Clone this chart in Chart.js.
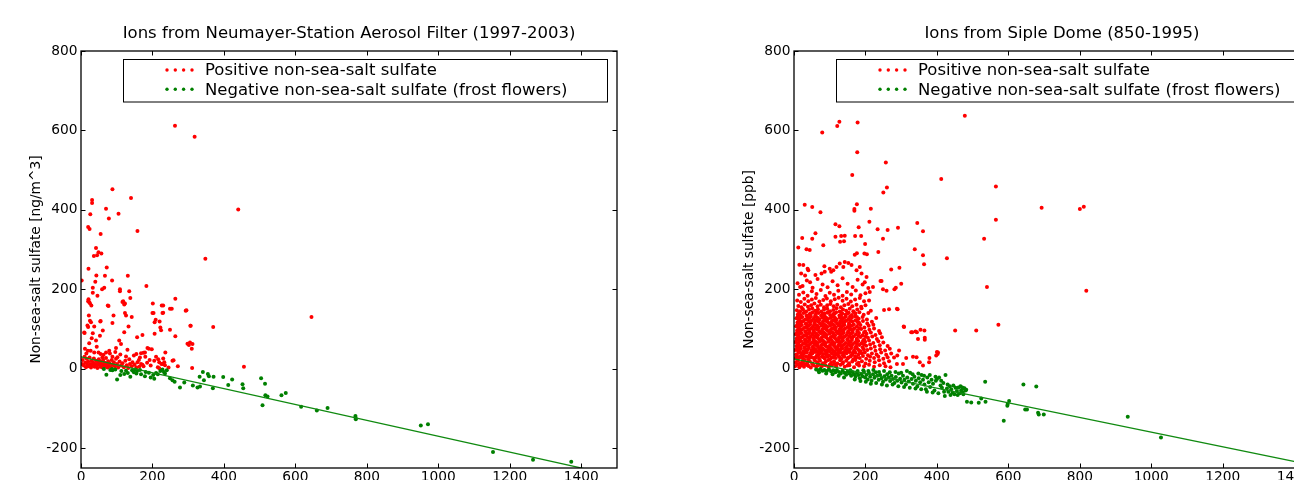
<!DOCTYPE html>
<html>
<head>
<meta charset="utf-8">
<script src="https://cdn.jsdelivr.net/npm/chart.js@4/dist/chart.umd.min.js"></script>
<style>
  html, body { margin: 0; padding: 0; background: #fff; overflow: hidden; }
  #wrap { position: relative; width: 1294px; height: 480px; overflow: hidden; }
  canvas { position: absolute; top: 0; }
  #left { left: 0; }
  #right { left: 713px; }
</style>
</head>
<body>
<div id="wrap">
  <canvas id="left" width="680" height="500"></canvas>
  <canvas id="right" width="680" height="500"></canvas>
</div>
<script>
// axis ticks
const xTicks = [0, 200, 400, 600, 800, 1000, 1200, 1400];
const yTicks = [-200, 0, 200, 400, 600, 800];

const seriesLabels = ['Positive non-sea-salt sulfate', 'Negative non-sea-salt sulfate (frost flowers)'];

// Neumayer: [sodium, nss sulfate]
const neuPositive = [
  [263,612],[318,584],[440,401],[88,452],[140,430],[31,425],[31,417],[70,403],[26,389],[105,390],[78,378],[20,357],[24,352],[55,339],[158,347],
  [42,304],[49,293],[57,290],[36,284],[45,286],[348,277],[21,252],[72,255],[43,235],[67,234],[131,234],[2,222],[40,219],[87,222],[33,204],
  [59,200],[65,204],[109,200],[183,208],[33,191],[46,184],[138,178],[264,176],[21,175],[20,170],[25,165],[29,159],[77,158],[118,170],[123,164],
  [201,164],[203,140],[206,117],[230,159],[230,141],[254,151],[295,147],[307,108],[264,82],[298,63],[305,66],[310,50],[370,105],[311,2],[456,5],
  [645,130],[91,134],[55,120],[22,134],[25,121],[61,96],[18,109],[20,105],[9,91],[123,140],[220,119],[224,97],[222,104],[206,88],[236,41],
  [271,6],[259,21],[109,195],[135,195],[116,168],[121,162],[23,168],[75,159],[226,159],[249,151],[228,140],[293,146],[200,140],[126,134],[142,130],
  [54,119],[209,123],[306,108],[88,115],[28,117],[37,106],[10,90],[33,89],[133,106],[121,92],[172,85],[157,79],[53,83],[249,98],[30,77],
  [23,64],[42,71],[107,71],[112,62],[98,52],[312,62],[302,60],[198,49],[186,52],[179,41],[168,39],[155,37],[79,45],[70,41],[19,45],
  [11,50],[37,41],[55,37],[49,41],[60,29],[88,30],[102,29],[126,31],[135,24],[144,16],[158,16],[172,10],[163,5],[219,16],[256,20],
  [190,50],[175,40],[216,24],[233,16],[229,12],[219,1],
  [3,12],[5,22],[8,8],[10,30],[12,15],[14,4],[16,25],[18,10],[20,18],[22,6],[24,28],[26,12],[28,3],[30,20],[32,9],[34,15],[36,26],[38,5],
  [40,12],[42,20],[44,8],[46,2],[48,16],[50,24],[52,10],[54,5],[56,18],[58,12],[60,3],[62,22],[64,9],[66,15],[68,6],[70,27],[72,12],[74,3],
  [76,19],[78,8],[80,14],[84,4],[86,22],[88,10],[92,16],[95,6],[98,25],[101,12],[104,3],[108,18],[112,8],[116,14],[120,4],[124,20],[128,9],
  [132,2],[137,12],[142,6],[150,10],[155,3],[162,22],[168,12],[175,6],[185,15],[195,8],[205,20],[215,4],[225,12],[235,9],[245,3],
  [15,38],[27,45],[44,55],[63,35],[81,38],[96,42],[110,36],[130,48],[148,33],[165,28],[180,30],[192,22],[210,30],[230,26]
];
const neuNegative = [
  [64,-1],[71,-15],[82,-3],[88,-4],[87,-1],[96,-2],[101,-27],[110,-16],[113,-6],[121,-13],[126,-5],[131,-11],[138,-20],[143,-4],[148,-9],
  [152,-2],[155,-12],[157,-6],[165,-3],[168,-14],[179,-19],[181,-8],[190,-10],[195,-22],[202,-16],[205,-25],[210,-11],[215,-14],[222,-6],
  [228,-2],[232,-8],[235,-12],[240,-4],[249,-24],[256,-29],[262,-33],[277,-47],[289,-35],[313,-42],[326,-47],[333,-45],[341,-8],[344,-29],
  [332,-20],[355,-13],[358,-19],[371,-20],[369,-49],[398,-21],[412,-41],[423,-27],[452,-39],[454,-49],[504,-24],[515,-38],[516,-67],[522,-70],
  [508,-92],[561,-67],[573,-61],[616,-96],[660,-105],[690,-99],[768,-119],[768,-123],[769,-127],[951,-143],[971,-140],[1153,-210],[1265,-229],[1372,-234]
];
const neuFitX = [0, 1500];
const neuFitY = [30, -270];

// Siple Dome: [sodium, nss sulfate]
const sipPositive = [
  [478,637],[800,402],[811,408],[693,405],[565,459],[565,375],[532,327],[412,478],[257,519],[260,456],[250,444],[177,545],[178,620],[127,622],
  [121,611],[79,595],[163,488],[30,413],[51,407],[74,394],[176,414],[169,402],[169,398],[215,403],[345,367],[116,364],[127,359],[181,356],
  [211,370],[234,351],[262,349],[291,355],[361,346],[23,329],[51,327],[60,341],[116,332],[132,334],[142,335],[171,334],[188,334],[129,320],
  [140,321],[199,314],[249,327],[12,305],[35,301],[44,299],[82,311],[236,294],[197,290],[204,288],[170,287],[176,291],[338,301],[361,286],
  [428,278],[818,196],[540,206],[572,111],[451,96],[510,96],[364,263],[272,250],[295,254],[300,214],[245,221],[249,200],[281,200],
  [242,221],[285,204],[259,196],[252,148],[288,151],[307,106],[294,46],[328,92],[340,94],[347,75],[354,98],[366,73],[403,41],[398,33],
  [379,27],[361,8],[352,16],[333,30],[314,27],[305,12],[290,150],[266,150],[308,105],[331,92],[344,92],[366,78],[365,96],
  [400,42],[402,37],[378,16],[343,29],[289,33],[288,12],
  [3,6],[9,10],[15,4],[21,9],[28,5],[34,11],[41,7],[47,3],[55,9],[62,5],[70,10],[78,6],[88,9],[97,4],[106,8],[118,6],[130,10],[142,5],
  [155,9],[168,4],[182,8],[196,6],[210,10],[224,5],[240,9],[256,6],[270,4],
  [5,16],[11,20],[17,14],[24,18],[30,22],[37,15],[44,19],[51,13],[58,21],[65,16],[73,20],[81,14],[89,18],[96,22],[104,15],[112,19],
  [121,13],[129,21],[137,16],[146,20],[154,14],[163,18],[172,22],[181,15],[190,19],[200,13],[212,20],[226,16],[238,21],[252,14],[266,19],
  [4,27],[10,25],[18,30],[25,26],[33,31],[40,24],[48,29],[55,27],[63,32],[70,25],[78,30],[86,26],[94,31],[101,24],[109,29],[117,27],
  [125,32],[133,25],[141,30],[150,26],[158,31],[166,24],[175,29],[184,27],[193,32],[202,25],[213,30],[224,27],[236,31],[250,25],[262,29],[280,28],
  [6,36],[13,40],[21,35],[28,39],[36,41],[43,34],[51,38],[59,42],[66,35],[74,39],[82,37],[90,41],[98,34],[106,38],[114,42],[122,36],
  [130,40],[138,34],[147,39],[155,42],[163,36],[172,40],[180,35],[189,39],[198,41],[207,34],[218,38],[231,36],[244,41],[258,35],[272,38],
  [3,47],[11,45],[19,50],[26,44],[34,48],[42,52],[49,46],[57,50],[65,44],[72,49],[80,51],[88,45],[95,48],[103,52],[111,44],[119,49],
  [127,46],[135,51],[143,45],[151,49],[160,52],[168,46],[177,50],[186,44],[195,49],[205,47],[215,51],[228,45],[241,49],[255,46],[268,50],
  [7,57],[14,55],[22,60],[30,54],[38,58],[45,62],[53,56],[61,60],[68,54],[76,59],[84,61],[92,55],[100,58],[108,62],[116,54],[124,59],
  [132,56],[140,61],[148,55],[157,59],[165,62],[174,56],[183,60],[192,54],[202,58],[213,61],[226,55],[240,59],[262,57],
  [4,67],[12,65],[20,70],[27,64],[35,69],[43,72],[50,66],[58,70],[66,64],[73,69],[81,71],[89,65],[97,68],[105,72],[113,64],[121,69],
  [129,66],[137,71],[145,65],[154,69],[162,72],[171,66],[180,70],[189,64],[199,68],[210,71],[222,65],[236,69],[250,66],
  [8,77],[16,75],[24,80],[31,74],[39,78],[47,82],[54,76],[62,80],[70,74],[78,79],[86,81],[94,75],[102,78],[110,82],[118,74],[126,79],
  [134,76],[142,81],[150,75],[159,79],[167,82],[176,76],[186,80],[196,74],[207,78],[219,81],[232,75],[246,79],
  [5,87],[13,85],[21,90],[28,84],[36,89],[44,92],[51,86],[59,90],[67,84],[75,89],[83,91],[91,85],[99,88],[107,92],[115,84],[123,89],
  [131,86],[139,91],[147,85],[156,89],[164,92],[173,86],[182,90],[192,84],[203,88],[215,91],[228,85],[241,89],
  [9,97],[17,95],[25,100],[32,94],[40,98],[48,102],[55,96],[63,100],[71,94],[79,99],[87,101],[95,95],[103,98],[111,102],[119,94],[127,99],
  [135,96],[143,101],[152,95],[160,99],[169,102],[178,96],[188,100],[199,94],[211,98],[224,101],[238,95],
  [6,107],[14,105],[22,110],[30,104],[37,109],[45,112],[53,106],[61,110],[69,104],[77,109],[85,111],[93,105],[101,108],[109,112],[117,104],
  [125,109],[133,106],[141,111],[150,105],[158,109],[167,112],[176,106],[186,110],[197,104],[209,108],[222,111],
  [10,117],[18,115],[26,120],[34,114],[42,118],[50,122],[57,116],[65,120],[73,114],[81,119],[89,121],[97,115],[105,118],[113,122],[121,114],
  [129,119],[137,116],[146,121],[154,115],[163,119],[172,122],[182,116],[193,120],[205,114],[218,118],
  [7,127],[15,125],[23,130],[31,124],[39,129],[47,132],[55,126],[63,130],[71,124],[79,129],[87,131],[95,125],[103,128],[111,132],[119,124],
  [128,129],[136,126],[145,131],[153,125],[162,129],[171,132],[181,126],[192,130],[204,124],[230,128],
  [11,137],[19,135],[27,140],[36,134],[44,138],[52,142],[60,136],[68,140],[76,134],[85,139],[93,141],[101,135],[110,138],[118,142],[127,134],
  [135,139],[144,136],[153,141],[162,135],[172,139],[183,142],[195,136],[208,140],
  [8,147],[17,145],[25,150],[34,144],[42,149],[51,152],[59,146],[67,150],[76,144],[84,149],[93,151],[101,145],[110,148],[119,152],[128,144],
  [137,149],[146,146],[156,151],[166,145],[177,149],[189,152],[215,146],
  [12,158],[21,155],[30,162],[39,156],[48,160],[57,164],[66,157],[75,161],[84,155],[93,160],[102,163],[111,157],[121,161],[131,155],[141,160],
  [152,163],[163,157],[175,161],[188,156],[200,160],
  [9,172],[19,168],[29,176],[40,170],[50,174],[61,178],[71,169],[82,173],[92,177],[103,170],[114,175],[125,179],[136,171],[147,176],[159,169],
  [171,174],[184,178],[196,170],[210,172],
  [14,186],[26,192],[38,184],[50,195],[63,188],[75,198],[88,183],[100,191],[112,186],[124,196],[136,184],[148,193],[160,187],[173,197],[186,185],[200,190],
  [10,215],[24,208],[36,222],[52,204],[66,226],[80,212],[94,205],[108,220],[122,210],[136,228],[150,214],[164,206],[178,224],[192,212],[208,203],
  [20,240],[38,252],[60,236],[85,258],[104,244],[128,265],[142,269],[152,266],[161,261],[138,256],[119,256],[110,248],[100,252],[86,244],
  [77,240],[26,261],[31,235],[40,248],[184,256],[175,248],[189,240],[203,231],[15,262],[45,218],[17,206],[198,218],[212,193],[221,206],
  // core fill
  [15,11],[26,13],[38,9],[52,12],[66,8],[84,12],[100,10],[114,12],[136,13],[150,8],[176,12],
  [8,33],[16,29],[24,33],[39,29],[46,32],[61,28],[68,33],[83,29],[91,34],[105,28],[113,33],[128,29],[137,34],[152,28],[160,34],[171,31],
  [15,43],[23,39],[31,44],[47,40],[55,44],[69,41],[77,44],[92,40],[100,44],[115,40],[124,43],[139,41],[147,44],[165,41],[184,43],
  [9,52],[17,50],[29,52],[38,48],[53,52],[61,48],[77,52],[84,48],[99,52],[107,48],[122,53],[130,48],[145,53],[156,48],[171,53],[181,47],
  [11,62],[18,58],[33,62],[41,58],[57,63],[65,58],[80,62],[88,58],[104,63],[112,58],[127,62],[135,58],[152,62],[161,58],[176,63],[196,61],
  [8,72],[16,69],[31,71],[39,67],[55,72],[62,67],[77,72],[85,67],[101,73],[109,67],[125,72],[133,68],[149,73],[158,67],[175,72],[193,70],
  [12,82],[20,79],[35,83],[43,78],[58,82],[66,78],[82,83],[90,79],[106,82],[114,78],[130,83],[138,79],[155,82],[163,78],[181,83],[201,81],
  [9,92],[17,89],[32,93],[40,88],[55,92],[63,88],[79,93],[87,88],[103,92],[111,88],[127,93],[135,88],[151,92],[160,88],[177,93],[196,91],
  [13,102],[21,99],[36,103],[44,98],[59,102],[67,98],[83,103],[91,98],[107,102],[115,98],[131,103],[139,98],[156,102],[165,98],[183,102],
  [10,112],[18,109],[33,113],[41,108],[57,112],[65,108],[81,113],[89,108],[105,112],[113,108],[129,113],[137,108],[154,112],[162,108],[180,113],
  [14,122],[22,119],[38,123],[46,118],[61,122],[69,118],[85,123],[93,118],[109,122],[117,118],[133,123],[141,118],[158,122],[177,119],
  [11,132],[19,129],[35,133],[43,128],[59,132],[67,128],[83,133],[91,128],[107,132],[115,128],[132,133],[140,128],[157,132],[176,130],
  [15,142],[31,143],[47,139],[63,143],[80,139],[97,143],[114,139],[131,143],[149,139],[167,143]
];
const sipNegative = [
  [62,-2],[68,-4],[74,-1],[80,-5],[85,-3],[92,-6],[98,-2],[104,-7],[110,-4],[116,-9],[120,-3],
  [126,-8],[131,-12],[136,-5],[141,-10],[146,-15],[150,-7],[155,-12],[160,-18],[164,-9],[168,-14],[172,-20],[176,-11],[180,-16],[184,-24],
  [188,-13],[192,-19],[196,-8],[199,-22],
  [203,-15],[206,-27],[210,-11],[213,-20],[217,-30],[221,-14],[225,-23],[229,-9],[233,-18],[237,-28],[241,-16],[245,-24],[249,-33],[253,-19],
  [257,-27],[261,-14],[265,-22],[269,-31],[273,-18],[277,-26],[281,-36],
  [285,-21],[289,-30],[293,-12],[297,-25],[301,-35],[305,-18],[309,-28],[313,-40],[317,-22],[321,-32],[325,-10],[329,-26],[333,-38],[337,-20],
  [341,-30],[345,-45],[349,-24],[353,-34],[357,-16],[361,-28],
  [365,-40],[369,-52],[373,-22],[377,-34],[381,-46],[385,-28],[389,-38],[393,-55],[397,-30],[400,-26],[406,-22],[410,-42],[414,-48],[418,-36],
  [422,-69],[424,-16],[428,-50],[432,-58],[436,-44],[440,-52],[444,-60],[449,-64],[452,-48],[456,-56],[460,-47],[464,-62],[468,-54],[471,-47],
  [472,-60],[475,-50],[477,-49],[480,-55],[482,-53],
  [70,-9],[90,-12],[108,-14],[125,-18],[140,-22],
  [158,-4],[170,-27],[178,-6],[186,-31],[194,-4],[201,-33],[208,-6],[215,-38],[222,-3],[230,-36],[238,-8],[246,-40],[252,-6],[260,-42],
  [268,-9],[276,-40],[284,-8],[292,-44],[300,-10],[308,-46],[316,-6],[324,-48],[332,-14],[340,-50],[348,-12],[356,-52],[364,-18],[372,-58],
  [380,-16],[388,-60],[396,-20],[404,-62],[412,-30],[420,-58],[430,-40],[438,-66],[446,-42],[458,-66],[466,-44],[474,-64],
  [484,-83],[496,-85],[517,-86],[524,-75],[536,-83],[535,-33],[587,-131],[598,-89],[602,-81],[597,-93],[642,-40],[678,-45],[647,-103],
  [652,-103],[685,-115],[683,-111],[699,-115],[934,-121],[1027,-173]
];
const sipFitX = [0, 1500];
const sipFitY = [25, -252];

Chart.defaults.font.family = '"DejaVu Sans", sans-serif';
Chart.defaults.color = '#000';

const toXY = pts => pts.map(p => ({ x: p[0], y: p[1] }));

// inward ticks on all four sides, frame, and the boxed legend
const axesFrame = {
  id: 'axesFrame',
  afterDatasetsDraw(chart) {
    const { ctx, chartArea: a, scales: { x, y } } = chart;
    const tl = 4.5;
    ctx.save();
    ctx.strokeStyle = '#000';
    ctx.lineWidth = 1;
    ctx.beginPath();
    xTicks.forEach(v => {
      const px = Math.round(x.getPixelForValue(v)) + 0.5;
      ctx.moveTo(px, a.bottom); ctx.lineTo(px, a.bottom - tl);
      ctx.moveTo(px, a.top); ctx.lineTo(px, a.top + tl);
    });
    yTicks.forEach(v => {
      const py = Math.round(y.getPixelForValue(v)) + 0.5;
      ctx.moveTo(a.left, py); ctx.lineTo(a.left + tl, py);
      ctx.moveTo(a.right, py); ctx.lineTo(a.right - tl, py);
    });
    ctx.stroke();
    ctx.lineWidth = 1.3;
    ctx.strokeRect(a.left, a.top, a.right - a.left, a.bottom - a.top);

    // legend
    const right = a.right - 10, left = right - 484;
    const top = a.top + 8, bottom = a.top + 50.5;
    ctx.fillStyle = '#fff';
    ctx.fillRect(left, top, right - left, bottom - top);
    ctx.lineWidth = 1;
    ctx.strokeRect(left + 0.5, top + 0.5, right - left, bottom - top);
    const items = seriesLabels.map(l => chart.data.datasets.find(d => d.label === l));
    ctx.font = '16.5px "DejaVu Sans"';
    ctx.textBaseline = 'middle';
    ctx.textAlign = 'left';
    items.forEach((d, i) => {
      const cy = a.top + 19 + i * 19.3;
      ctx.fillStyle = d.backgroundColor;
      [44, 52.3, 60.6, 69].forEach(dx => {
        ctx.beginPath();
        ctx.arc(left + dx, cy, 1.7, 0, Math.PI * 2);
        ctx.fill();
      });
      ctx.fillStyle = '#000';
      ctx.fillText(d.label, left + 82, cy + 1);
    });
    ctx.restore();
  }
};

function makeChart(id, title, yLabel, pos, neg, fitX, fitY) {
  return new Chart(document.getElementById(id), {
    type: 'scatter',
    data: {
      datasets: [
        {
          label: 'fit',
          data: fitX.map((v, i) => ({ x: v, y: fitY[i] })),
          showLine: true,
          borderColor: '#108a10',
          borderWidth: 1.3,
          pointRadius: 0,
          clip: 0
        },
        {
          label: seriesLabels[1],
          data: toXY(neg),
          backgroundColor: '#008000',
          borderWidth: 0,
          pointRadius: 2
        },
        {
          label: seriesLabels[0],
          data: toXY(pos),
          backgroundColor: '#ff0000',
          borderWidth: 0,
          pointRadius: 2
        }
      ]
    },
    options: {
      responsive: false,
      animation: false,
      events: [],
      layout: { padding: { left: 0, right: 63, top: 0, bottom: 0 } },
      plugins: {
        legend: { display: false },
        tooltip: { enabled: false },
        title: {
          display: true,
          fullSize: false,
          text: title,
          color: '#000',
          font: { size: 16.5, weight: 'normal' },
          padding: { top: 24, bottom: 7.2 }
        }
      },
      scales: {
        x: {
          type: 'linear',
          min: 0,
          max: 1500,
          grid: { display: false, drawTicks: false },
          border: { display: false },
          afterBuildTicks: s => { s.ticks = xTicks.map(v => ({ value: v })); },
          afterFit: s => { s.height = 32; },
          ticks: { color: '#000', font: { size: 13.75 }, padding: 1, maxRotation: 0, autoSkip: false, callback: v => String(v) }
        },
        y: {
          type: 'linear',
          min: -250,
          max: 800,
          grid: { display: false, drawTicks: false },
          border: { display: false },
          afterBuildTicks: s => { s.ticks = yTicks.map(v => ({ value: v })); },
          afterFit: s => { s.width = 81; },
          title: { display: true, text: yLabel, color: '#000', font: { size: 13.75 }, padding: { top: 28, bottom: 0 } },
          ticks: { color: '#000', font: { size: 13.75 }, padding: 3.5, autoSkip: false, callback: v => String(v) }
        }
      }
    },
    plugins: [axesFrame]
  });
}

makeChart('left', 'Ions from Neumayer-Station Aerosol Filter (1997-2003)', 'Non-sea-salt sulfate [ng/m^3]',
  neuPositive, neuNegative, neuFitX, neuFitY);
makeChart('right', 'Ions from Siple Dome (850-1995)', 'Non-sea-salt sulfate [ppb]',
  sipPositive, sipNegative, sipFitX, sipFitY);
</script>
</body>
</html>
